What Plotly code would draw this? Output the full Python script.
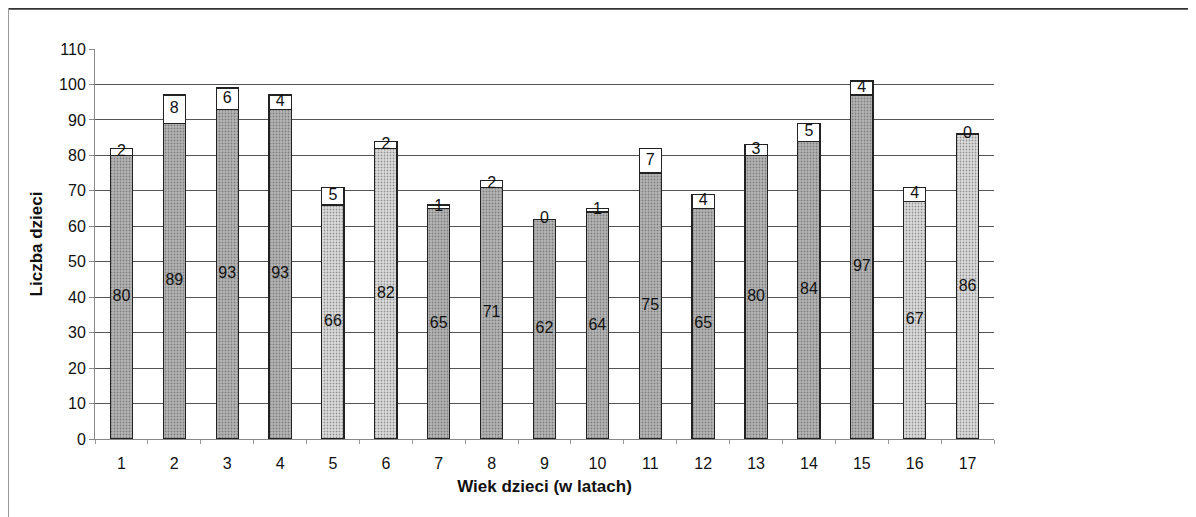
import plotly.graph_objects as go

ages = [str(i) for i in range(1, 18)]
bottom_values = [80, 89, 93, 93, 66, 82, 65, 71, 62, 64, 75, 65, 80, 84, 97, 67, 86]
top_values = [2, 8, 6, 4, 5, 2, 1, 2, 0, 1, 7, 4, 3, 5, 4, 4, 0]
y_ticks = list(range(0, 111, 10))

light = {"5", "6", "16", "17"}
bg_colors = ["#dedede" if a in light else "#b6b6b6" for a in ages]
fg_colors = ["#8c8c8c" if a in light else "#505050" for a in ages]

fig = go.Figure()
fig.add_trace(go.Bar(
    x=ages, y=bottom_values,
    marker=dict(color=bg_colors, line=dict(color="#222", width=1.2),
                pattern=dict(shape=".", fgcolor=fg_colors, bgcolor=bg_colors,
                             size=3, solidity=0.3)),
    hoverinfo="skip", showlegend=False,
))
fig.add_trace(go.Bar(
    x=ages, y=top_values,
    marker=dict(color="white", line=dict(color="#222", width=1.2)),
    hoverinfo="skip", showlegend=False,
))
# labels
fig.add_trace(go.Scatter(
    x=ages, y=[b / 2 for b in bottom_values], mode="text",
    text=[str(v) for v in bottom_values],
    textfont=dict(family="Liberation Sans", size=16, color="#111"),
    hoverinfo="skip", showlegend=False,
))
fig.add_trace(go.Scatter(
    x=ages, y=[b + t / 2 for b, t in zip(bottom_values, top_values)], mode="text",
    text=[str(v) for v in top_values],
    textfont=dict(family="Liberation Sans", size=16, color="#111"),
    hoverinfo="skip", showlegend=False,
))

# page body has an 8px margin, so the figure is shifted by 8px right and down
fig.update_layout(
    barmode="stack", bargap=0.58,
    width=1188, height=509,
    margin=dict(l=87, r=202, t=41, b=78, autoexpand=False),
    paper_bgcolor="white", plot_bgcolor="white",
    font=dict(family="Liberation Sans", color="#111"),
    xaxis=dict(
        type="category", range=[-0.5, len(ages) - 0.5],
        tickson="boundaries", ticks="outside", ticklen=4,
        tickcolor="#999", showline=True, linecolor="#888", linewidth=1,
        showgrid=False, tickfont=dict(size=16), ticklabelstandoff=10,
        title=dict(text="<b>Wiek dzieci (w latach)</b>", font=dict(size=17), standoff=8),
    ),
    yaxis=dict(
        range=[0, 110], tickvals=y_ticks, ticks="outside", ticklen=5,
        tickcolor="#888", showline=True, linecolor="#888", linewidth=1,
        showgrid=True, gridcolor="#555", gridwidth=1, zeroline=False,
        tickfont=dict(size=16),
        title=dict(text="<b>Liczba dzieci</b>", font=dict(size=17), standoff=12),
    ),
    shapes=[
        dict(type="line", xref="paper", yref="paper", x0=-0.1, x1=1.23,
             y0=1.1035, y1=1.1035, line=dict(color="#333", width=2)),
        dict(type="line", xref="paper", yref="paper", x0=-0.0962, x1=-0.0962,
             y0=1.105, y1=-0.21, line=dict(color="#999", width=1)),
    ],
)

fig.write_html("out.html")
